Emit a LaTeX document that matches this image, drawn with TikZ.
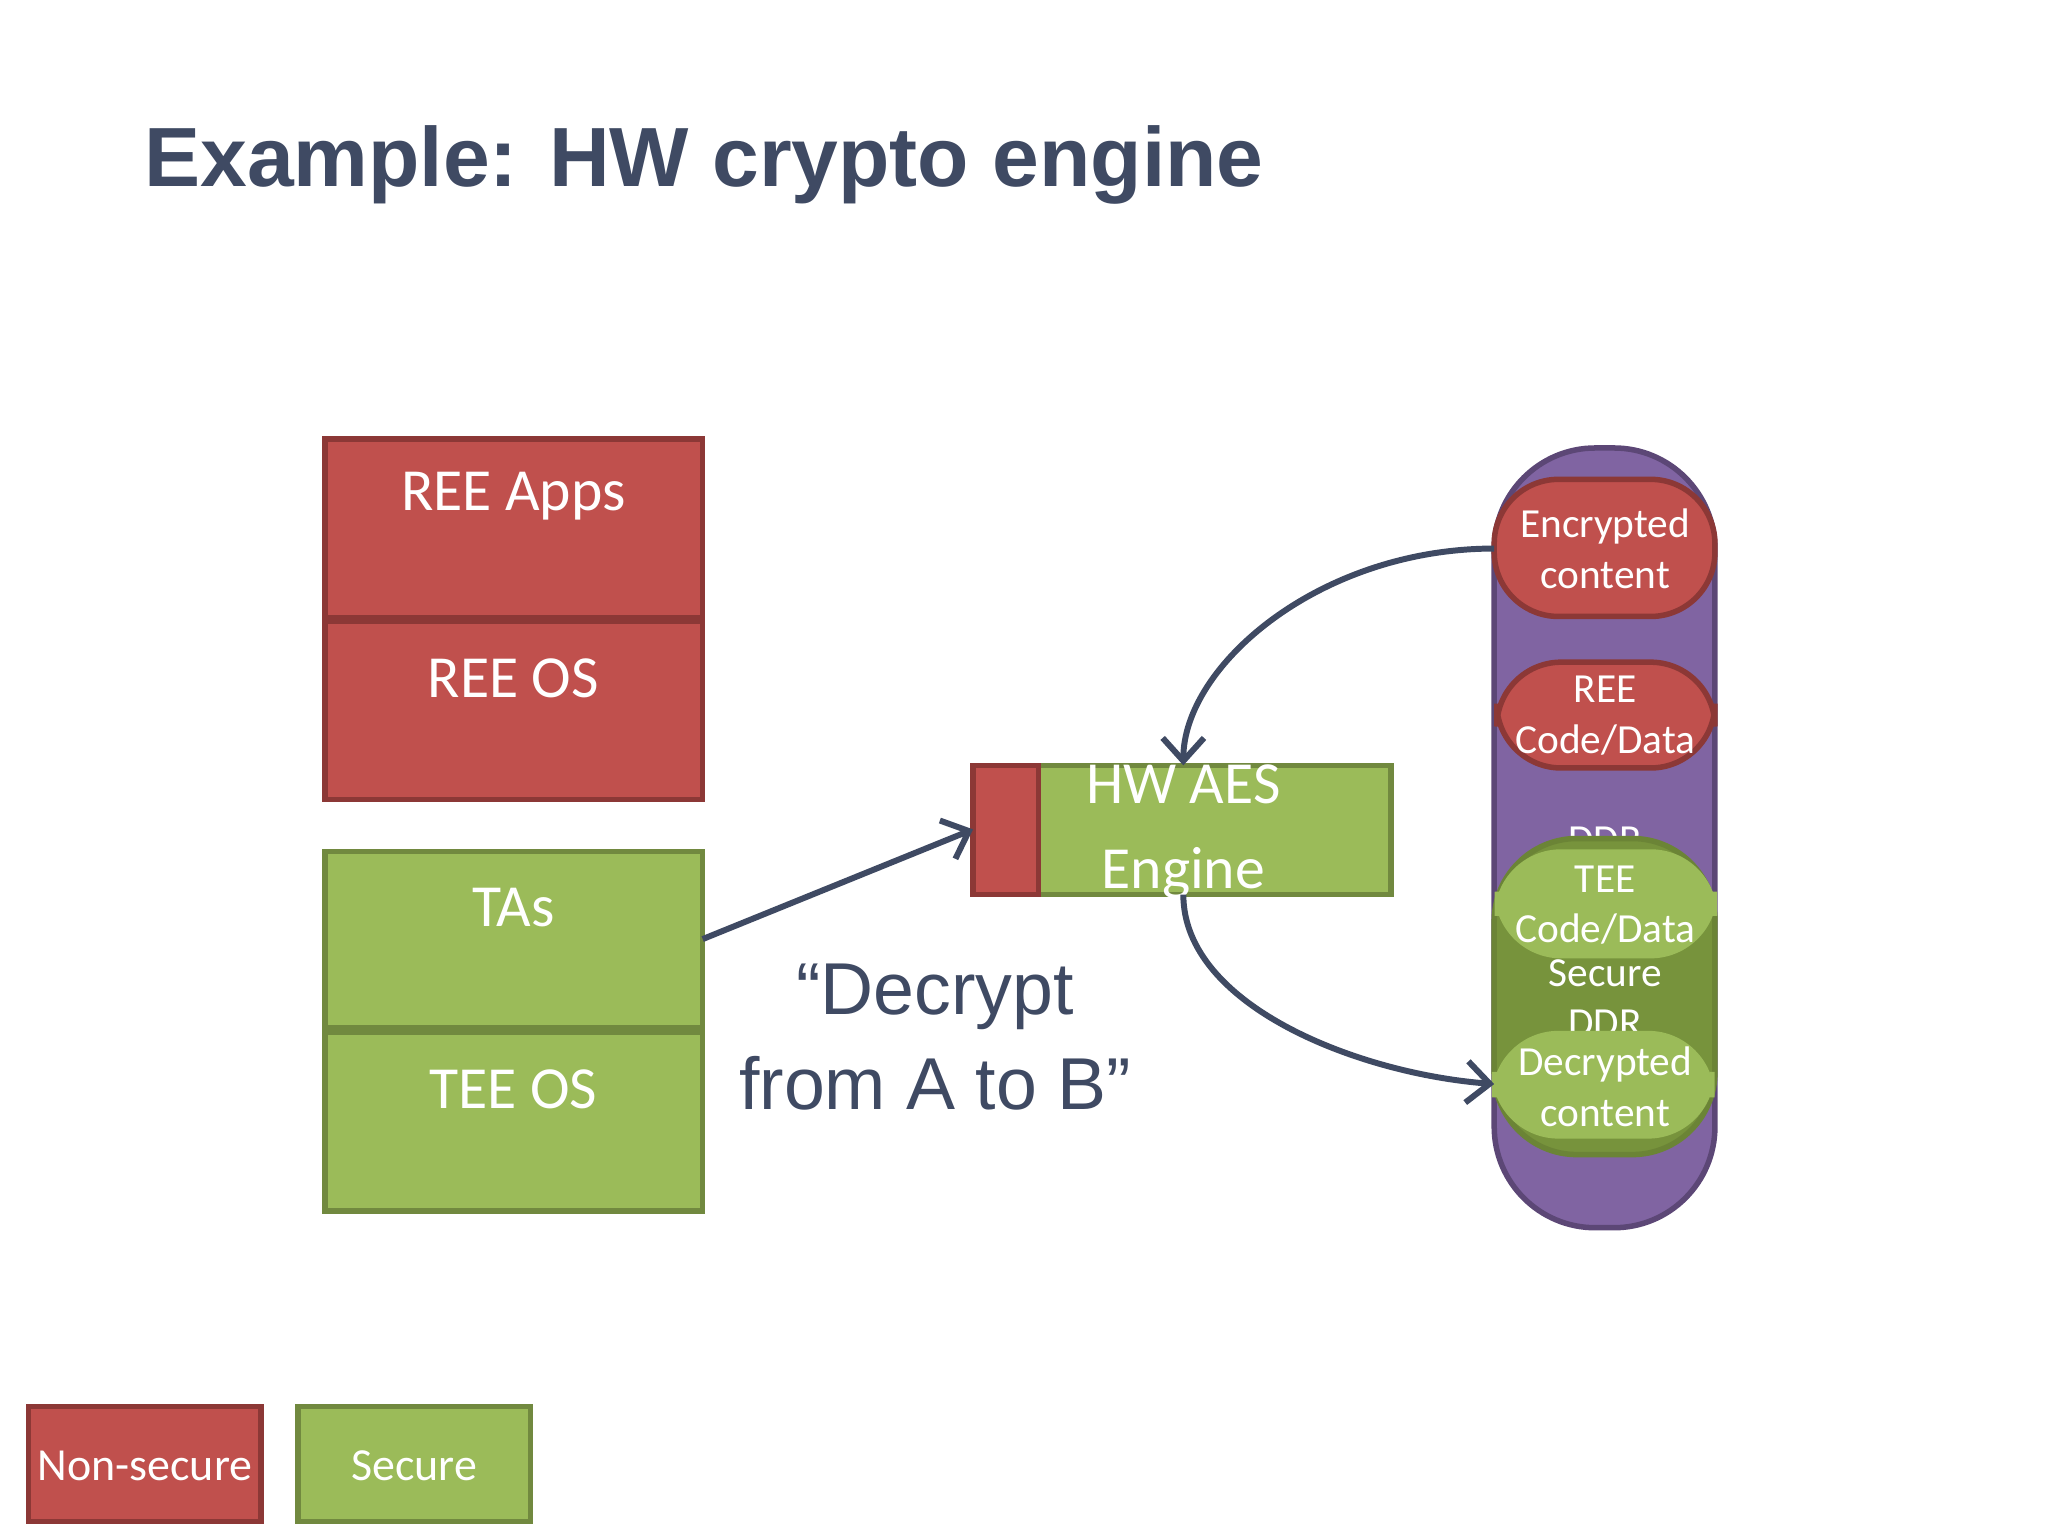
\documentclass[tikz,border=0pt]{standalone}
\usepackage{fontspec}
\setmainfont{Carlito}
\newfontfamily\arial{Liberation Sans}
\usetikzlibrary{arrows.meta}
\definecolor{rfill}{HTML}{C0504D}\definecolor{rdraw}{HTML}{8C3836}
\definecolor{gfill}{HTML}{9BBB59}\definecolor{gdraw}{HTML}{71893F}
\definecolor{gdark}{HTML}{77933C}
\definecolor{pfill}{HTML}{8064A2}\definecolor{pdraw}{HTML}{5C4776}
\definecolor{slate}{HTML}{3F4A63}
\begin{document}
\begin{tikzpicture}[x=0.01cm,y=-0.01cm,
 red/.style={fill=rfill,draw=rdraw,line width=1.2pt},
 green/.style={fill=gfill,draw=gdraw,line width=1.2pt},
 big/.style={text=white,font=\fontsize{13}{13}\selectfont},
 small/.style={text=white,font=\fontsize{9}{11}\selectfont,align=center},
 conn/.style={draw=slate,line width=1.3pt,-{Straight Barb[length=5pt,width=9pt,line width=1.3pt]}}]
\useasboundingbox (0,0) rectangle (1568,1177);
\node[anchor=base west,text=slate,font=\arial\bfseries\fontsize{18.3}{20}\selectfont] (title) at (98,143) {Example: HW crypto engine};
% stacks
\draw[red] (249,336) rectangle (538,473);
\node[big] (reeapps) at (393,380) {REE Apps};
\draw[red] (249,476) rectangle (538,612);
\node[big] (reeos) at (393,519) {REE OS};
\draw[green] (249,652) rectangle (538,787);
\node[big] (tas) at (393,695) {TAs};
\draw[green] (249,790) rectangle (538,927);
\node[big] (teeos) at (393,834) {TEE OS};
\coordinate (tasR) at (538,719);
% engine
\draw[green] (795,586) rectangle (1065,685);
\draw[red] (745,586) rectangle (795,685);
\node[big,align=center,font=\fontsize{13}{18.5}\selectfont] (eng) at (906,637) {HW AES\\Engine};
\coordinate (engL) at (745,635);
\coordinate (engT) at (906,586);
\coordinate (engB) at (906,685);
\node[text=slate,font=\arial\fontsize{16}{20.5}\selectfont,align=center] (dec) at (716,794) {“Decrypt\\from A to B”};
% memory
\draw[fill=pfill,draw=pdraw,line width=1.2pt,rounded corners=22] (1144,343) rectangle (1313,940);
\node[text=white,font=\fontsize{9}{11}\selectfont] (ddr) at (1229,643) {DDR};
\draw[fill=gdark,draw=gdark!90!black,line width=1.2pt,rounded corners=18] (1144,642) rectangle (1313,884);
\node[small] (sddr) at (1229,764) {Secure\\DDR};
\draw[red,rounded corners=14] (1144,367) rectangle (1313,472);
\node[small] (enc) at (1229,420) {Encrypted\\content};
\draw[red,rounded corners=14] (1146,507) rectangle (1313,588);
\node[small] (reecd) at (1229,548) {REE\\Code/Data};
\draw[fill=gfill,draw=gfill,line width=1pt,rounded corners=14] (1146,652) rectangle (1313,732);
\node[small] (teecd) at (1229,693) {TEE\\Code/Data};
\draw[fill=gfill,draw=gfill,line width=1pt,rounded corners=14] (1144,791) rectangle (1311,870);
\node[small] (decc) at (1229,832) {Decrypted\\content};
\coordinate (encL) at (1144,420);
\coordinate (decL) at (1144,830);
% arrows
\draw[conn] (tasR) -- (engL);
\draw[conn] (encL) .. controls (1010,420) and (906,510) .. (engT);
\draw[conn] (engB) .. controls (906,770) and (1040,822) .. (decL);
% legend
\draw[red] (22,1077) rectangle (200,1165);
\node[small,font=\fontsize{10}{12}\selectfont] (ns) at (111,1122) {Non-secure};
\draw[green] (228,1077) rectangle (406,1165);
\node[small,font=\fontsize{10}{12}\selectfont] (sec) at (317,1122) {Secure};
\end{tikzpicture}
\end{document}
